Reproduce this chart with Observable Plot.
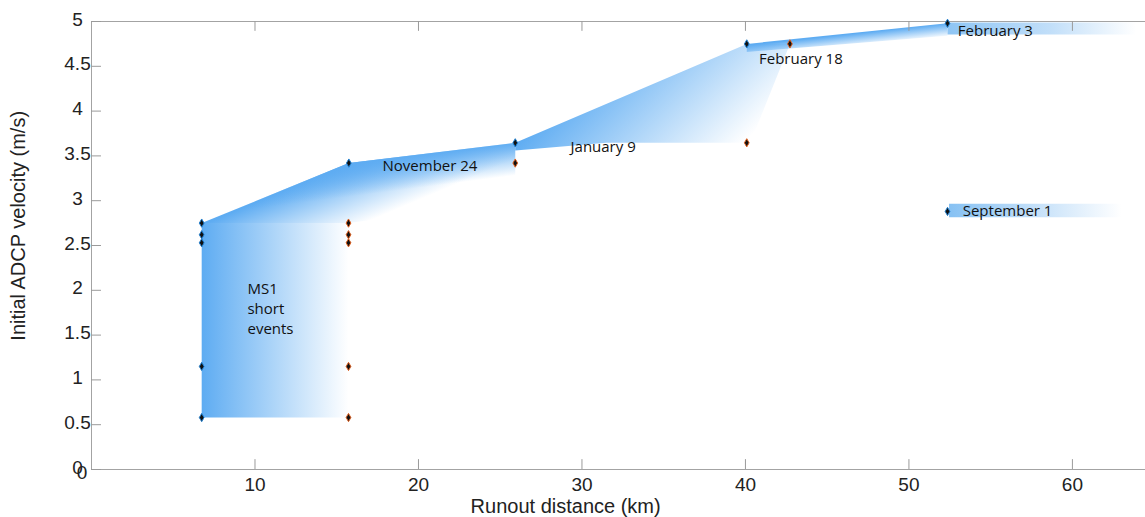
<!DOCTYPE html>
<html><head><meta charset="utf-8">
<script src="https://cdn.jsdelivr.net/npm/d3@7"></script>
<script src="https://cdn.jsdelivr.net/npm/@observablehq/plot@0.6"></script>
<style>body{margin:0;background:#fff;} #chart svg{display:block;}</style>
</head><body><div id="chart"></div>
<script>
// ---- axis ticks ----
const xTicks = [10, 20, 30, 40, 50, 60];
const xZeroLabel = [0];
const yTicks = [0, 0.5, 1, 1.5, 2, 2.5, 3, 3.5, 4, 4.5, 5];

// ---- observed points (runout km, initial velocity m/s) ----
const startKm  = [6.74, 6.74, 6.74, 6.74, 6.74, 15.74, 25.92, 40.08, 52.36, 52.36];
const startVel = [2.75, 2.62, 2.53, 1.15, 0.58, 3.42, 3.646, 4.75, 4.98, 2.88];
const endKm    = [15.72, 15.72, 15.72, 15.72, 15.72, 25.92, 40.08, 42.72];
const endVel   = [2.75, 2.62, 2.53, 1.15, 0.58, 3.42, 3.646, 4.75];

// ---- event labels ----
const eventNames   = ["MS1\nshort\nevents", "November 24", "January 9", "February 18", "February 3", "September 1"];
const eventLabelKm = [9.54, 17.8, 29.3, 40.83, 52.99, 53.29];
const eventLabelVel= [1.81, 3.40, 3.62, 4.60, 4.91, 2.90];

// ---- shaded ranges (polygon vertices [km, m/s]) ----
const shapeMS1   = [[6.74, 0.58], [15.72, 0.58], [15.72, 2.75], [6.74, 2.75]];
const shapeNov   = [[6.74, 2.75], [15.74, 3.42], [25.92, 3.646], [25.92, 3.0], [15.74, 2.75]];
const shapeJan   = [[25.92, 3.646], [40.08, 4.75], [42.72, 4.75], [40.3, 3.646], [31.5, 3.646], [25.92, 3.56]];
const shapeFeb18 = [[40.08, 4.75], [52.36, 4.98], [52.36, 4.84], [40.08, 4.66]];
const shapeFeb3  = [[52.36, 4.99], [64.5, 4.99], [64.5, 4.855], [52.36, 4.855]];
const shapeSep1  = [[52.45, 2.965], [63.0, 2.965], [63.0, 2.815], [52.45, 2.815]];

// gradient axes [from, to] in data units; stops: [offset, colour, opacity]
const gradients = [
  {id: "gMS1",  from: [6.74, 1.6],   to: [15.72, 1.6],  stops: [[0, "#5eacf2", 1], [1, "#5eacf2", 0]]},
  {id: "gNov",  from: [15.74, 3.42], to: [17.2, 2.79],  stops: [[0, "#5eacf2", 1], [1, "#5eacf2", 0]]},
  {id: "gNovT", from: [15.74, 3.42], to: [16.0, 3.05],  stops: [[0, "#5eacf2", 1], [1, "#5eacf2", 0]]},
  {id: "gJan",  from: [25.92, 3.646], to: [32.9, 2.37], stops: [[0, "#5eacf2", 1], [1, "#5eacf2", 0]]},
  {id: "gFeb18",from: [52.36, 4.98], to: [52.45, 4.83], stops: [[0, "#5eacf2", 1], [1, "#5eacf2", 0]]},
  {id: "gFeb3", from: [52.36, 4.9],  to: [63.9, 4.9],   stops: [[0, "#8ec5f4", 1], [0.55, "#c2dff9", 1], [1, "#ffffff", 1]]},
  {id: "gSep1", from: [52.45, 2.9],  to: [63.0, 2.9],   stops: [[0, "#86c1f3", 1], [0.5, "#c4e0f9", 1], [1, "#ffffff", 1]]}
];
const shapes = [
  [shapeMS1, "gMS1"], [shapeNov, "gNov"], [shapeNov, "gNovT"], [shapeJan, "gJan"],
  [shapeFeb18, "gFeb18"], [shapeFeb3, "gFeb3"], [shapeSep1, "gSep1"]
];

const startPts = startKm.map((k, i) => ({km: k, v: startVel[i]}));
const endPts = endKm.map((k, i) => ({km: k, v: endVel[i]}));
const labels = eventNames.map((n, i) => ({name: n, km: eventLabelKm[i], v: eventLabelVel[i]}));

const axisFont = "'Liberation Sans', Arial, Helvetica, sans-serif";
const annFont = "'Open Sans', 'Noto Sans', sans-serif";
const frameGray = "#a3a3a3";
const tickGray = "#9a9a9a";

const plot = Plot.plot({
  width: 1145,
  height: 517,
  marginLeft: 91,
  marginRight: 0,
  marginTop: 21,
  marginBottom: 48,
  style: {background: "#fff", overflow: "visible"},
  x: {domain: [0, 64.47], axis: null},
  y: {domain: [0, 5], axis: null},
  marks: [
    ...shapes.map(([pts, id]) => Plot.line(pts, {x: d => d[0], y: d => d[1], curve: "linear-closed", fill: `url(#${id})`, stroke: "none"})),
    // frame
    Plot.ruleY([5], {stroke: frameGray}),
    Plot.ruleY([0], {stroke: frameGray}),
    Plot.ruleX([0], {stroke: frameGray}),
    // tick marks (pointing inward, ~10px)
    Plot.ruleX(xTicks, {x: d => d, y1: 0, y2: 0.11, stroke: tickGray}),
    Plot.ruleX(xTicks, {x: d => d, y1: 5, y2: 4.89, stroke: tickGray}),
    Plot.ruleY(yTicks, {y: d => d, x1: 0, x2: 0.61, stroke: tickGray}),
    // tick labels
    Plot.text(xTicks, {x: d => d, frameAnchor: "bottom", text: d => String(d), textAnchor: "middle", lineAnchor: "top", dy: 8, fontSize: 19, fontFamily: axisFont, fill: "#222"}),
    Plot.text(yTicks, {y: d => d, frameAnchor: "left", text: d => String(d), textAnchor: "middle", lineAnchor: "middle", dx: -14, dy: -2, fontSize: 19, fontFamily: axisFont, fill: "#222"}),
    Plot.text(xZeroLabel, {x: d => d, frameAnchor: "bottom", text: d => String(d), textAnchor: "middle", lineAnchor: "middle", dx: -9.5, dy: 3, fontSize: 19, fontFamily: axisFont, fill: "#222"}),
    // axis titles
    Plot.text(["Runout distance (km)"], {x: 29.0, frameAnchor: "bottom", dy: 37, text: d => d, textAnchor: "middle", lineAnchor: "middle", fontSize: 20, fontFamily: axisFont, fill: "#222"}),
    Plot.text(["Initial ADCP velocity (m/s)"], {y: 2.72, frameAnchor: "left", dx: -73, rotate: -90, text: d => d, textAnchor: "middle", lineAnchor: "middle", fontSize: 20, fontFamily: axisFont, fill: "#222"}),
    // points
    Plot.dot(endPts, {x: "km", y: "v", symbol: "diamond", r: 2.5, fill: "#111", stroke: "#e0601f", strokeWidth: 1}),
    Plot.dot(startPts, {x: "km", y: "v", symbol: "diamond", r: 2.5, fill: "#111", stroke: "#1f7fd0", strokeWidth: 1}),
    // labels
    Plot.text(labels, {x: "km", y: "v", text: "name", textAnchor: "start", lineAnchor: "middle", lineHeight: 1.33, fontSize: 15, fontFamily: annFont, fill: "#111"})
  ]
});

// gradient definitions, positioned through the plot's own scales
const xs = plot.scale("x"), ys = plot.scale("y");
const sx = d3.scaleLinear(xs.domain, xs.range), sy = d3.scaleLinear(ys.domain, ys.range);
const svg = d3.select(plot.tagName.toLowerCase() === "svg" ? plot : plot.querySelector("svg"));
const defs = svg.insert("defs", ":first-child");
for (const g of gradients) {
  const lg = defs.append("linearGradient").attr("id", g.id)
    .attr("gradientUnits", "userSpaceOnUse")
    .attr("x1", sx(g.from[0])).attr("y1", sy(g.from[1]))
    .attr("x2", sx(g.to[0])).attr("y2", sy(g.to[1]));
  for (const [o, c, a] of g.stops) lg.append("stop").attr("offset", o).attr("stop-color", c).attr("stop-opacity", a);
}
document.getElementById("chart").appendChild(plot);
</script>
</body></html>
